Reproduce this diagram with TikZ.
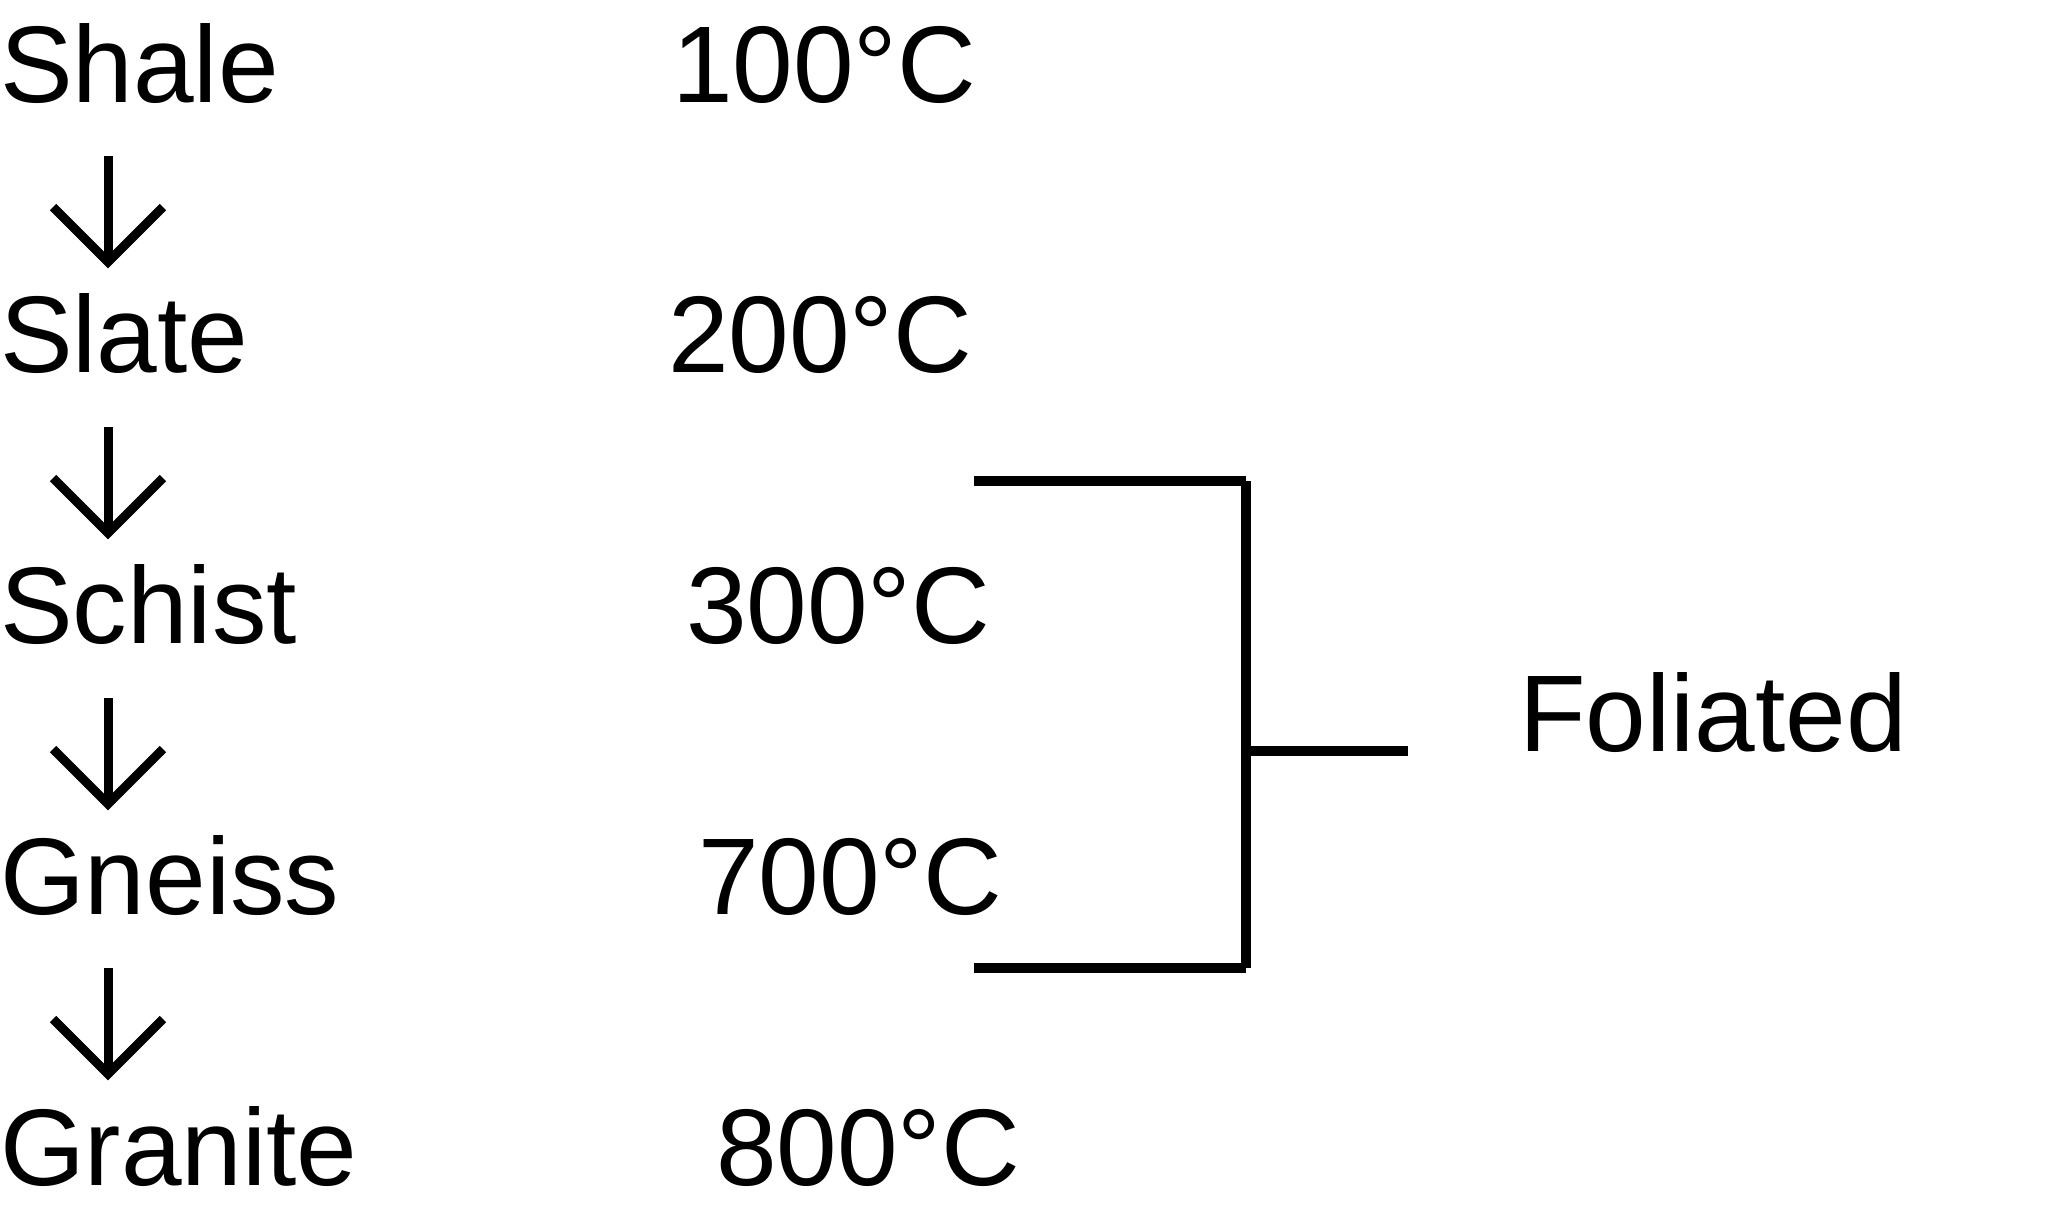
\documentclass[tikz,border=0pt]{standalone}
\usepackage{fontspec}
\setmainfont{Liberation Sans}
\usetikzlibrary{calc}
\begin{document}
\begin{tikzpicture}[x=0.5pt,y=-0.5pt,
  lbl/.style={inner sep=0pt, outer sep=0pt, anchor=base west, font=\fontsize{54.5}{60}\selectfont},
  stemline/.style={line width=4.5pt},
  wingline/.style={line width=4.5pt},
  brk/.style={line width=4.6pt}]
\useasboundingbox (0,0) rectangle (2048,1206);
% rock names
\node[lbl] (shale)   at (0,102)  {Shale};
\node[lbl] (slate)   at (0,372)  {Slate};
\node[lbl] (schist)  at (0,643)  {Schist};
\node[lbl] (gneiss)  at (0,914)  {Gneiss};
\node[lbl] (granite) at (0,1185) {Granite};
% temperatures
\node[lbl] (t100) at (672,102)  {100°C};
\node[lbl] (t200) at (668,372)  {200°C};
\node[lbl] (t300) at (686,643)  {300°C};
\node[lbl] (t700) at (698,914)  {700°C};
\node[lbl] (t800) at (716,1185) {800°C};
% label
\node[lbl] (foliated) at (1519,751) {Foliated};
% arrows
\coordinate (a1s) at (108,156);  \coordinate (a1e) at (108,262);
\coordinate (a2s) at (108,427);  \coordinate (a2e) at (108,533);
\coordinate (a3s) at (108,698);  \coordinate (a3e) at (108,804);
\coordinate (a4s) at (108,968);  \coordinate (a4e) at (108,1074);
\foreach \i in {1,2,3,4}{
  \draw[stemline] (a\i s) -- (a\i e);
  \draw[wingline] ($(a\i e)+(-55,-55)$) -- (a\i e) -- ($(a\i e)+(55,-55)$);
}
% bracket
\coordinate (bt1) at (974,481);  \coordinate (bt2) at (1246,481);
\coordinate (bb1) at (974,968);  \coordinate (bb2) at (1246,968);
\coordinate (bm1) at (1246,751); \coordinate (bm2) at (1408,751);
\draw[brk] (bt1) -- (bt2);
\draw[brk] (bt2) -- (bb2);
\draw[brk] (bb1) -- (bb2);
\draw[brk] (bm1) -- (bm2);
\end{tikzpicture}
\end{document}
